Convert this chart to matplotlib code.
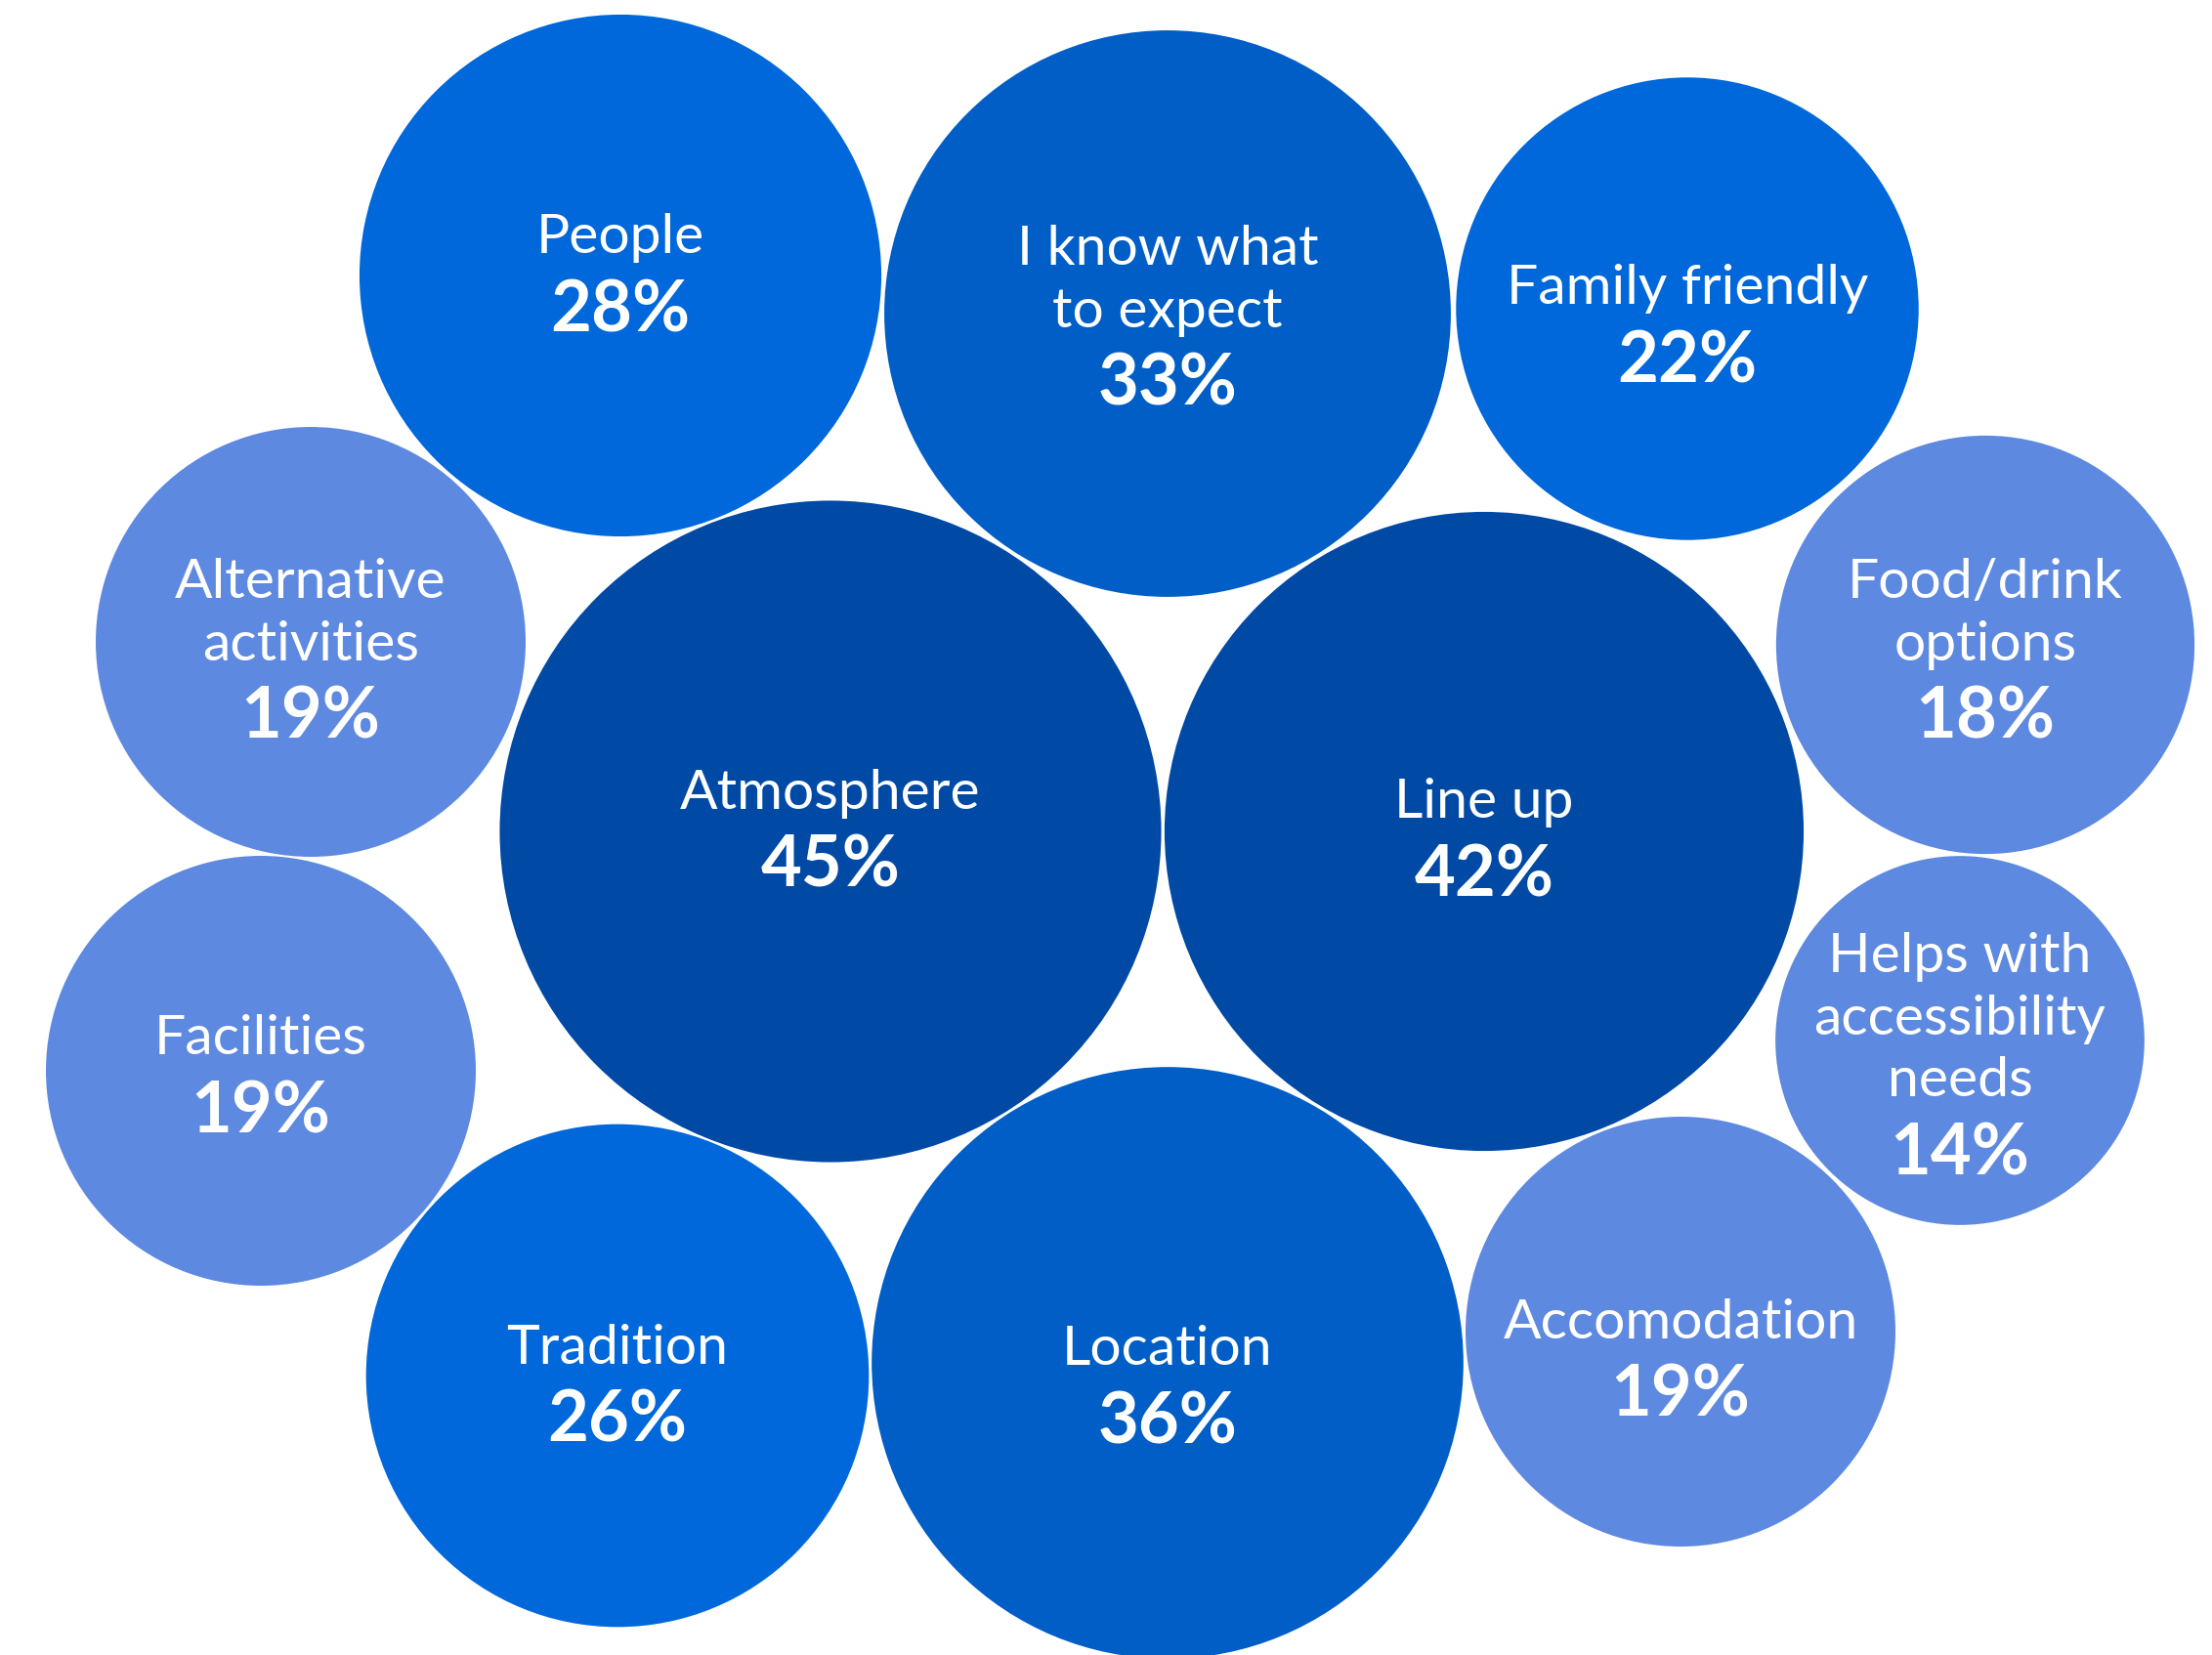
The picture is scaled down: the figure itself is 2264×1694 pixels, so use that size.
import matplotlib
matplotlib.use("Agg")
import matplotlib.pyplot as plt
from matplotlib.patches import Circle
import numpy as np

# ---- data ----
categories = ["People", "I know what\nto expect", "Family friendly",
              "Alternative\nactivities", "Atmosphere", "Line up",
              "Food/drink\noptions", "Helps with\naccessibility\nneeds",
              "Facilities", "Tradition", "Location", "Accomodation"]
values = [28, 33, 22, 19, 45, 42, 18, 14, 19, 26, 36, 19]

# ---- layout (bubble centres in figure pixels, label offsets) ----
pos_x = [635, 1195, 1727, 318, 850, 1519, 2032, 2006, 267, 632, 1195, 1720]
pos_y = [282, 321, 316, 657, 851, 851, 660, 1065, 1096, 1408, 1395, 1363]
label_dy = [-1, 2, 17, 7, -1, 8, 4, 13, 5, 10, 24, 29]
colors = ["#0068DA", "#005EC6", "#0068DA", "#5E89E0", "#004AA6", "#004AA6",
          "#5E89E0", "#5E89E0", "#5E89E0", "#0068DA", "#005EC6", "#5E89E0"]

W, H = 2264, 1694
DPI = 100
fig = plt.figure(figsize=(W / DPI, H / DPI), dpi=DPI)
ax = fig.add_axes([0, 0, 1, 1])
ax.set_xlim(0, W)
ax.set_ylim(H, 0)
ax.set_aspect("equal")
ax.axis("off")

scale = 50.47  # radius = scale * sqrt(value)
label_pitch = 63.5
pct_pitch = 75
label_fs = 41
pct_fs = 52

for name, v, x, y, dy, c in zip(categories, values, pos_x, pos_y, label_dy, colors):
    r = scale * np.sqrt(v)
    ax.add_patch(Circle((x, y), r, facecolor=c, edgecolor="none"))
    lines = name.split("\n")
    n = len(lines)
    ys = [i * label_pitch for i in range(n)]
    ys.append(ys[-1] + pct_pitch)
    mean = np.mean(ys)
    for i, ln in enumerate(lines):
        ax.text(x, y + dy + ys[i] - mean, ln, ha="center", va="center",
                color="white", fontsize=label_fs, family="Lato", fontweight="normal")
    ax.text(x, y + dy + ys[-1] - mean, f"{v}%", ha="center", va="center",
            color="white", fontsize=pct_fs, family="Lato", fontweight="bold")

fig.savefig("out.png", dpi=DPI)
